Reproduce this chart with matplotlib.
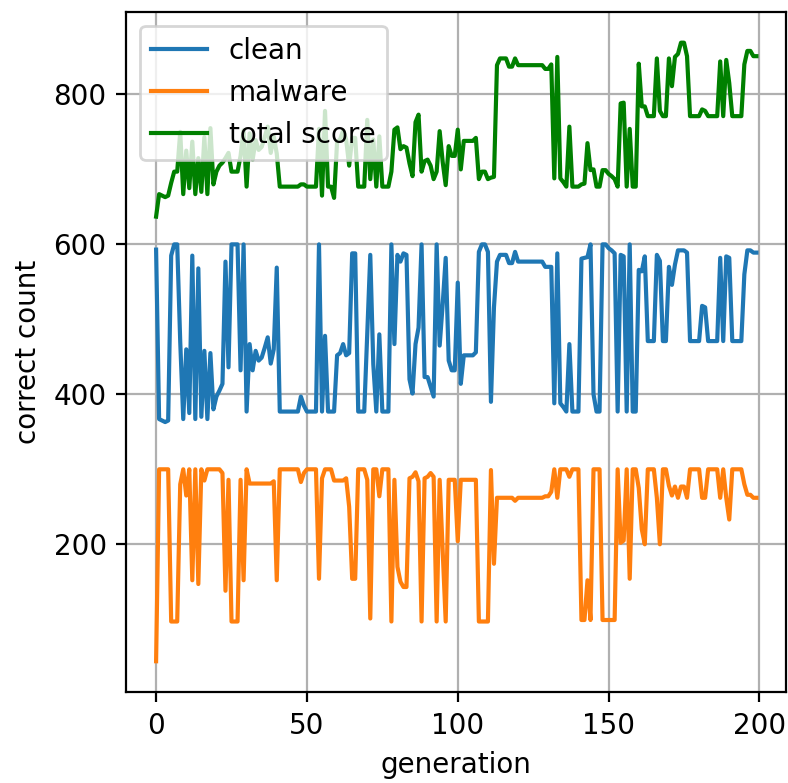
import numpy as np
import matplotlib
matplotlib.use("Agg")
import matplotlib.pyplot as plt

# best individual per generation: correctly classified clean / malware samples
clean = [
    593, 367, 365, 363, 365, 585, 600, 600, 470, 367,
    460, 375, 585, 367, 568, 370, 458, 367, 455, 380,
    397, 405, 414, 577, 436, 600, 600, 600, 432, 600,
    377, 467, 432, 458, 445, 449, 462, 476, 441, 460,
    569, 377, 377, 377, 377, 377, 377, 377, 397, 385,
    377, 377, 377, 377, 600, 377, 478, 377, 377, 377,
    452, 455, 467, 452, 455, 588, 588, 377, 377, 377,
    480, 586, 440, 377, 480, 377, 377, 377, 600, 467,
    586, 577, 588, 586, 420, 401, 467, 489, 600, 423,
    423, 410, 397, 600, 465, 520, 582, 445, 432, 432,
    549, 414, 452, 452, 452, 452, 456, 590, 600, 600,
    590, 390, 516, 577, 586, 586, 586, 575, 575, 590,
    577, 577, 577, 577, 577, 577, 577, 577, 577, 570,
    570, 570, 388, 588, 388, 383, 377, 467, 377, 377,
    377, 581, 582, 583, 600, 400, 377, 377, 600, 600,
    595, 592, 588, 377, 586, 584, 377, 600, 377, 377,
    566, 564, 584, 471, 471, 471, 586, 578, 471, 471,
    570, 546, 573, 592, 592, 592, 589, 471, 471, 471,
    471, 518, 516, 471, 471, 471, 471, 582, 471, 584,
    582, 471, 471, 471, 471, 560, 592, 592, 589, 589,
]

malware = [
    44, 300, 300, 300, 300, 97, 97, 97, 280, 300,
    265, 300, 152, 300, 147, 300, 285, 300, 300, 300,
    300, 300, 295, 138, 286, 97, 97, 97, 286, 152,
    300, 281, 281, 281, 281, 281, 281, 281, 281, 284,
    152, 300, 300, 300, 300, 300, 300, 300, 283, 295,
    300, 300, 300, 300, 154, 288, 300, 300, 300, 285,
    285, 285, 285, 288, 250, 154, 154, 300, 300, 300,
    286, 101, 300, 300, 264, 300, 300, 300, 97, 286,
    170, 150, 143, 143, 288, 290, 296, 284, 97, 288,
    290, 295, 290, 97, 286, 190, 97, 286, 286, 286,
    204, 286, 286, 286, 286, 286, 286, 97, 97, 97,
    97, 299, 174, 262, 262, 262, 262, 262, 262, 258,
    262, 262, 262, 262, 262, 262, 262, 262, 262, 264,
    264, 270, 300, 262, 300, 300, 300, 290, 300, 300,
    300, 99, 99, 152, 99, 300, 300, 300, 99, 99,
    99, 99, 99, 300, 202, 205, 300, 154, 300, 300,
    275, 220, 200, 300, 300, 300, 262, 200, 300, 300,
    278, 265, 277, 262, 277, 277, 262, 300, 300, 300,
    300, 262, 262, 300, 300, 300, 300, 262, 300, 262,
    233, 300, 300, 300, 300, 280, 266, 266, 262, 262,
]

generation = np.arange(len(clean))
# total score is the sum of both correct counts
total = np.array(clean) + np.array(malware)

fig = plt.figure(figsize=(3.94, 3.915), dpi=200)
ax = fig.add_axes([0.16, 0.116, 0.838, 0.869])

ax.plot(generation, clean, label='clean')
ax.plot(generation, malware, label='malware')
ax.plot(generation, total, color='green', label='total score')

ax.set_xlabel('generation')
ax.set_ylabel('correct count')
ax.legend(loc='upper left')
ax.grid(True)

fig.savefig('out.png', dpi=200)
